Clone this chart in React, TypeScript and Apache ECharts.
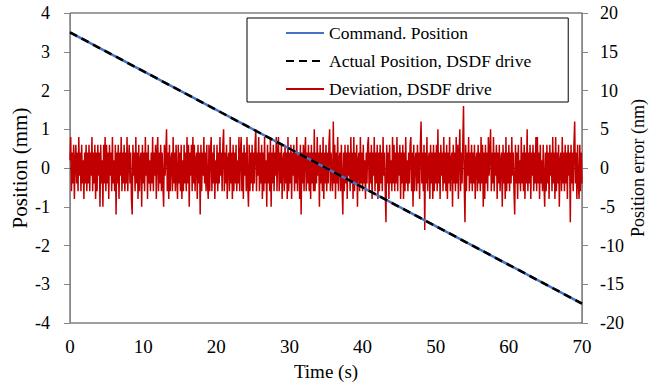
import React, { useEffect, useRef } from "react";
import * as echarts from "echarts";

// Time axis ticks and the straight-line travel of the stage (mm)
const timeTicks = [0, 10, 20, 30, 40, 50, 60, 70];
const commandPosition: [number, number][] = [
  [0, 3.5],
  [70, -3.5],
];
const actualPosition: [number, number][] = [
  [0, 3.5],
  [70, -3.5],
];

// Following error of the DSDF drive (nm), sampled every 0.1 s from 0 to 70 s
const deviation: number[] = [
  1, 4, -3, 2, -2, 3, -4, 1, 3, -2, 2, -3, 4, -1, 2, -3, 3, -2, 1, -4, 2, -2, 3, -3, 2,
  -2, 3, -3, 2, -1, 4, -3, 2, -2, 3, -4, 2, -3, 3, -1, 2, -5, 3, -2, 1, -5, 3, -2, 4, -3,
  3, -2, 2, -4, 3, -1, 2, -3, 4, -2, 1, -3, 3, -6, 2, -2, 3, -4, 2, -1, 4, -3, 2, -2, 3,
  -3, 2, -2, 4, -3, 1, 3, -2, 2, -4, -6, 3, -1, 2, -3, 4, -2, 2, -4, 3, -3, 1, 2, -5, 3,
  -2, 2, -3, 4, -1, 2, -4, 3, -2, 1, -3, 2, -2, 4, -3, 2, -1, 3, -4, 2, 4, -3, 2, -2, 3,
  -3, 2, -2, -5, 3, -1, 2, 5, -3, 2, -4, 3, -3, 1, 2, -3, 4, -2, 2, -3, 3, -1, -4, 3, -2,
  2, -3, 3, -4, 1, -3, 3, -2, 2, -3, 4, -2, 3, -5, 2, -1, 3, -3, 4, -2, 3, -3, 1, 2, -4,
  3, -2, 2, -6, 3, -3, 2, -1, 4, -2, 2, -3, 3, -2, -4, 3, -3, 2, 4, -3, 2, -2, 3, -4, 1,
  -2, 3, -3, 2, -2, 4, -1, 2, -3, 3, 5, -3, 2, -2, 3, -4, 1, 2, -3, 4, -2, 2, -4, 3, -3,
  2, -2, 3, -3, 1, -2, 4, -3, 2, 4, -3, 2, -4, 3, -1, 2, -3, 4, -2, -5, 3, -3, 2, -2, 3,
  -3, 2, -2, 3, 5, -3, 2, -1, 4, -3, 2, -2, 3, -4, 2, -3, 4, -2, 1, -5, 3, -2, 2, -3, 4,
  -5, 2, -2, 3, -3, 2, -1, 4, -3, 2, 4, -3, 2, -2, 3, -4, 1, 2, -3, 3, -2, 2, -4, 4, -3,
  2, -2, 3, -4, 2, -1, 3, -3, 2, -2, 4, -3, 1, 2, -4, 3, -6, 2, -2, 3, -3, 2, 4, -3, 2,
  -2, 3, -3, 2, -4, 3, -2, 2, -3, 5, -3, 2, -2, 4, -1, 2, -5, 3, -2, 2, -3, 4, -4, 2, -2,
  3, -3, 2, -2, 3, 5, -3, 2, -1, -3, 6, -2, 3, -4, 2, -2, 4, -3, 1, 2, -3, 3, -2, -6, 2,
  -3, 3, -2, 2, -4, 3, -1, 2, -3, 4, -2, 2, -4, 4, -3, 2, -2, 3, -5, 1, 2, -3, 4, -2, 2,
  -3, 3, -2, 1, -4, 2, -2, 3, 4, -3, 2, -2, 3, -4, 2, -1, 4, -3, 2, -2, 3, -4, 2, -3, 3,
  -2, 2, -3, 4, -1, 2, -3, -7, 3, -2, 2, -4, 3, -2, 1, -3, 4, -2, 3, -3, 2, -2, 4, -3, 2,
  -1, 3, -4, 2, -2, 3, -4, 2, -3, 4, -2, 1, -3, 2, -2, 3, 4, -3, 2, -5, 3, -3, 1, 2, -3,
  3, -2, 2, -4, 3, 6, -2, 2, -3, 3, -8, 2, -2, 4, -3, 1, 2, -4, 3, -2, 2, -4, 3, -3, 2,
  -2, 3, -3, 5, -2, 2, -4, 3, -1, 2, -3, 4, -2, 2, -3, 3, -4, 2, -2, 4, -3, 1, 2, -5, 3,
  -2, 2, -3, 4, -2, 3, -4, 2, 5, -3, 2, -2, 3, 8, -2, -7, 3, -3, 2, -1, 4, -3, 2, -2, 3,
  -3, 2, -2, 3, -4, 1, 2, -3, 3, -2, 2, -3, 4, -2, 3, -5, 2, -4, 3, -2, 2, -3, 4, -1, 2,
  5, -3, 2, -2, 4, -3, 2, -1, 3, -4, 2, -2, 3, -3, 1, 2, -5, 3, -2, 2, -4, 4, -3, 2, -2,
  3, -3, 2, -2, 4, -1, 2, -3, -6, 3, -2, 2, -4, 3, -2, 1, -3, 4, -2, 2, -3, 3, -4, 2, -2,
  5, -3, 2, -2, 3, -4, 2, -1, 3, -3, 2, -2, 4, -3, 4, -2, 2, -4, 3, -2, 1, -3, 3, -2, -5,
  2, -3, 3, -2, 2, -4, 3, -1, 2, -3, 4, -2, 2, -4, 4, -3, 2, -2, 3, -5, 1, 2, -3, 4, -2,
  2, -3, 3, -2, 2, -4, 3, -1, 2, -7, 3, -2, 2, -3, 3, 6, -2, 2, -4, 3, -2, -4, 3, -3, 2,
  -2,
];

const seriesNames = [
  "Command. Position",
  "Actual Position, DSDF drive",
  "Deviation, DSDF drive",
];

const FONT = "Liberation Serif";

export default function App() {
  const ref = useRef<HTMLDivElement>(null);

  useEffect(() => {
    if (!ref.current) return;
    document.body.style.margin = "0";
    const chart = echarts.init(ref.current, undefined, { renderer: "svg" });

    const tEnd = timeTicks[timeTicks.length - 1];
    const dt = tEnd / (deviation.length - 1);
    const deviationData = deviation.map((v, i) => [i * dt, v]);

    const tickLabel = (size: number, margin: number) => ({
      fontFamily: FONT,
      fontSize: size,
      color: "#000",
      margin,
    });

    chart.setOption({
      animation: false,
      backgroundColor: "#fff",
      textStyle: { fontFamily: FONT },
      grid: {
        left: 70,
        right: 73,
        top: 13,
        bottom: 67,
        show: true,
        borderColor: "#404040",
        borderWidth: 1,
        containLabel: false,
        outerBoundsMode: "none",
      },
      legend: {
        data: seriesNames,
        orient: "vertical",
        left: 247,
        top: 18,
        backgroundColor: "#fff",
        borderColor: "#000",
        borderWidth: 1,
        padding: [6, 37, 4, 38],
        itemWidth: 38,
        itemHeight: 14,
        itemGap: 10,
        itemStyle: { opacity: 0 },
        textStyle: {
          fontFamily: FONT,
          fontSize: 17.5,
          color: "#000",
          lineHeight: 18,
        },
      },
      xAxis: {
        type: "value",
        min: timeTicks[0],
        max: tEnd,
        interval: 10,
        name: "Time (s)",
        nameLocation: "middle",
        nameGap: 39,
        nameMoveOverlap: false,
        nameTextStyle: { fontFamily: FONT, fontSize: 19, color: "#000" },
        axisLine: { show: true, lineStyle: { color: "#000", width: 1 } },
        axisTick: { show: false },
        splitLine: { show: false },
        axisLabel: tickLabel(19, 14),
      },
      yAxis: [
        {
          type: "value",
          min: -4,
          max: 4,
          interval: 1,
          position: "left",
          name: "Position (mm)",
          nameLocation: "middle",
          nameRotate: 90,
          nameGap: 40,
          nameMoveOverlap: false,
          nameTextStyle: { fontFamily: FONT, fontSize: 21, color: "#000" },
          axisLine: { show: true, lineStyle: { color: "#868686", width: 1 } },
          axisTick: {
            show: true,
            inside: false,
            length: 6,
            lineStyle: { color: "#868686" },
          },
          splitLine: { show: false },
          axisLabel: tickLabel(18, 20),
        },
        {
          type: "value",
          min: -20,
          max: 20,
          interval: 5,
          position: "right",
          name: "Position error (nm)",
          nameLocation: "middle",
          nameRotate: 90,
          nameGap: 47,
          nameMoveOverlap: false,
          nameTextStyle: { fontFamily: FONT, fontSize: 18, color: "#000" },
          axisLine: { show: true, lineStyle: { color: "#868686", width: 1 } },
          axisTick: {
            show: true,
            inside: false,
            length: 6,
            lineStyle: { color: "#868686" },
          },
          splitLine: { show: false },
          axisLabel: tickLabel(18, 18),
        },
      ],
      series: [
        {
          name: seriesNames[2],
          type: "line",
          yAxisIndex: 1,
          data: deviationData,
          symbol: "none",
          lineStyle: { color: "#C00000", width: 1.5 },
          itemStyle: { color: "#C00000" },
          z: 1,
        },
        {
          name: seriesNames[0],
          type: "line",
          yAxisIndex: 0,
          data: commandPosition,
          symbol: "none",
          lineStyle: { color: "#4472C4", width: 2.5 },
          itemStyle: { color: "#4472C4" },
          z: 2,
        },
        {
          name: seriesNames[1],
          type: "line",
          yAxisIndex: 0,
          data: actualPosition,
          symbol: "none",
          lineStyle: { color: "#000", width: 2.5, type: [8, 5] },
          itemStyle: { color: "#000" },
          z: 3,
        },
      ],
    });

    return () => chart.dispose();
  }, []);

  return <div ref={ref} style={{ width: 655, height: 390 }} />;
}
